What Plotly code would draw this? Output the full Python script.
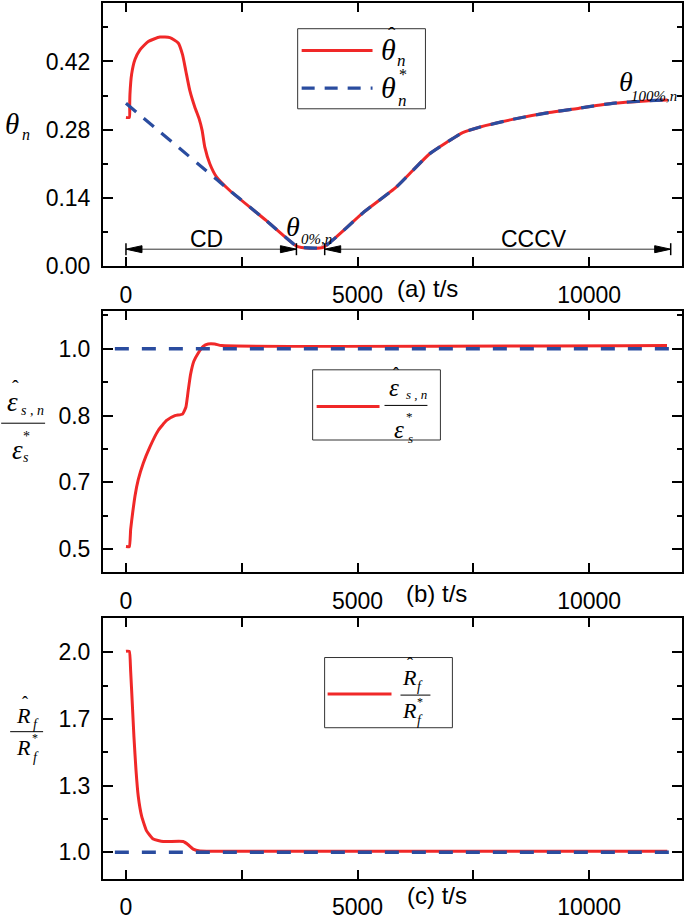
import plotly.graph_objects as go

# ---------------- data ----------------
t_theta_hat = [0, 72, 80, 86, 122, 194, 302, 481, 733, 948, 1128, 1221, 1293, 1379, 1487, 1580,
               1645, 1702, 1810, 1954, 2241, 3032, 3678, 3790, 4250, 5114, 5834, 6191, 6551,
               6911, 7269, 7629, 8347, 9066, 9784, 10502, 11221, 11690]
theta_hat = [0.305, 0.305, 0.330, 0.353, 0.394, 0.424, 0.444, 0.461, 0.470, 0.469, 0.458, 0.434,
             0.400, 0.360, 0.326, 0.302, 0.278, 0.244, 0.210, 0.183, 0.155, 0.093, 0.041, 0.038,
             0.038, 0.109, 0.162, 0.196, 0.230, 0.253, 0.274, 0.285, 0.301, 0.314, 0.324, 0.334,
             0.339, 0.341]

t_theta_star = [0, 1954, 2241, 3032, 3678, 3790, 4250, 5114, 5834, 6191, 6551, 6911, 7269, 7629,
                8347, 9066, 9784, 10502, 11221, 11690]
theta_star = [0.334, 0.178, 0.155, 0.093, 0.041, 0.038, 0.038, 0.109, 0.162, 0.196, 0.230, 0.253,
              0.274, 0.285, 0.301, 0.314, 0.324, 0.334, 0.339, 0.341]

t_eps_hat = [0, 72, 101, 144, 194, 265, 373, 517, 696, 877, 1056, 1221, 1293, 1343, 1394, 1465,
             1558, 1666, 1774, 1918, 2062, 11680]
eps_ratio_hat = [0.506, 0.506, 0.549, 0.590, 0.632, 0.673, 0.714, 0.755, 0.796, 0.821, 0.833, 0.837,
                 0.854, 0.895, 0.936, 0.969, 0.989, 1.006, 1.012, 1.012, 1.008, 1.008]
t_eps_ref = [-240, 11800]
eps_ratio_ref = [1.0, 1.0]

t_rf_hat = [0, 72, 101, 137, 172, 216, 265, 338, 445, 589, 804, 1235, 1343, 1451, 1595, 1882, 11687]
rf_ratio_hat = [2.005, 2.005, 1.906, 1.741, 1.577, 1.412, 1.280, 1.181, 1.107, 1.066, 1.054, 1.054,
                1.038, 1.016, 1.006, 1.005, 1.005]
t_rf_ref = [-240, 11830]
rf_ratio_ref = [1.0, 1.0]

x_tickvals = [0, 2500, 5000, 7500, 10000]
x_ticktext = ["0", "", "5000", "", "10000"]
ya_tickvals = [0, 0.14, 0.28, 0.42]
ya_ticktext = ["0.00", "0.14", "0.28", "0.42"]
ya_minor = [0.07, 0.21, 0.35, 0.49]
yb_tickvals = [0.5, 2 / 3, 5 / 6, 1.0]
yb_ticktext = ["0.5", "0.7", "0.8", "1.0"]
yb_minor = [7 / 12, 3 / 4, 11 / 12, 13 / 12]
yc_tickvals = [1.0, 4 / 3, 5 / 3, 2.0]
yc_ticktext = ["1.0", "1.3", "1.7", "2.0"]
yc_minor = [7 / 6, 1.5, 11 / 6, 13 / 6]
panel_titles = ["(a) t/s", "(b) t/s", "(c) t/s"]
cd_span = [0, 3680]
cccv_span = [4290, 11760]
arrow_level = 0.0345
phase_labels = ["CD", "CCCV"]

# ---------------- layout helpers ----------------
FW, FH = 685, 921
L, R, T, B = 103, 2, 1, 34
W, H = FW - L - R, FH - T - B
RED = "#f02828"
BLUE = "#2a4c9f"
SANS = "Liberation Sans, Arial, sans-serif"
SERIF = "Liberation Serif, Times New Roman, serif"


def P(px):
    return (px - L) / W


def Q(py):
    return 1 - (py - T) / H


annotations = []
shapes = []


def txt(px, py, s, size, serif=True, italic=True, xanchor="center"):
    annotations.append(dict(
        x=P(px), y=Q(py), xref="paper", yref="paper",
        text=("<i>%s</i>" % s) if italic else s, showarrow=False,
        font=dict(family=SERIF if serif else SANS, size=size, color="black"),
        xanchor=xanchor, yanchor="middle"))


def pline(x0, y0, x1, y1, color="black", width=1, dash="solid"):
    shapes.append(dict(type="line", xref="paper", yref="paper", x0=P(x0), y0=Q(y0),
                       x1=P(x1), y1=Q(y1), line=dict(color=color, width=width, dash=dash)))


def prect(x0, y0, x1, y1):
    shapes.append(dict(type="rect", xref="paper", yref="paper", x0=P(x0), y0=Q(y0),
                       x1=P(x1), y1=Q(y1), line=dict(color="#333", width=1), fillcolor="white"))


dom_a = [Q(267), Q(1)]
dom_b = [Q(576.7), Q(312.7)]
dom_c = [max(0, Q(886.7)), Q(623.3)]
xrange_ = [-496, 12004]

fig = go.Figure()
# panel a
fig.add_trace(go.Scatter(x=t_theta_hat, y=theta_hat, mode="lines",
                         line=dict(color=RED, width=3, shape="spline", smoothing=0.5),
                         xaxis="x", yaxis="y", showlegend=False))
fig.add_trace(go.Scatter(x=t_theta_star, y=theta_star, mode="lines",
                         line=dict(color=BLUE, width=3.2, dash="13px,10px", shape="spline", smoothing=0.5),
                         xaxis="x", yaxis="y", showlegend=False))
# panel b
fig.add_trace(go.Scatter(x=t_eps_hat, y=eps_ratio_hat, mode="lines",
                         line=dict(color=RED, width=3, shape="spline", smoothing=0.4),
                         xaxis="x2", yaxis="y2", showlegend=False))
fig.add_trace(go.Scatter(x=t_eps_ref, y=eps_ratio_ref, mode="lines",
                         line=dict(color=BLUE, width=3.5, dash="14px,13px"),
                         xaxis="x2", yaxis="y2", showlegend=False))
# panel c
fig.add_trace(go.Scatter(x=t_rf_hat, y=rf_ratio_hat, mode="lines",
                         line=dict(color=RED, width=3, shape="spline", smoothing=0.4),
                         xaxis="x3", yaxis="y3", showlegend=False))
fig.add_trace(go.Scatter(x=t_rf_ref, y=rf_ratio_ref, mode="lines",
                         line=dict(color=BLUE, width=3.5, dash="14px,13px"),
                         xaxis="x3", yaxis="y3", showlegend=False))

common = dict(showline=True, linecolor="black", linewidth=2, mirror="allticks", ticks="inside",
              tickwidth=2, tickcolor="black", showgrid=False, zeroline=False,
              tickfont=dict(family=SANS, size=23, color="black"))


def xax(anchor):
    return dict(common, domain=[0, 1], anchor=anchor, range=xrange_, tickmode="array",
                tickvals=x_tickvals, ticktext=x_ticktext, ticklen=9, ticklabelstandoff=7)


def yax(anchor, dom, rng, tv, tt, minor):
    return dict(common, domain=dom, anchor=anchor, range=rng, tickmode="array", tickvals=tv,
                ticktext=tt, ticklen=10, ticklabelstandoff=6,
                minor=dict(tickmode="array", tickvals=minor, ticklen=5, tickwidth=2,
                           tickcolor="black", ticks="inside"))


fig.update_layout(
    width=FW, height=FH, margin=dict(l=L, r=R, t=T, b=B),
    paper_bgcolor="white", plot_bgcolor="white", showlegend=False,
    xaxis=xax("y"), yaxis=yax("x", dom_a, [0, 0.540], ya_tickvals, ya_ticktext, ya_minor),
    xaxis2=xax("y2"), yaxis2=yax("x2", dom_b, [0.442, 1.094], yb_tickvals, yb_ticktext, yb_minor),
    xaxis3=xax("y3"), yaxis3=yax("x3", dom_c, [0.868, 2.170], yc_tickvals, yc_ticktext, yc_minor),
)

# x-axis panel titles
txt(428, 290, panel_titles[0], 24, serif=False, italic=False)
txt(437, 598, panel_titles[1], 24, serif=False, italic=False)
txt(438, 904, panel_titles[2], 24, serif=False, italic=False)

# ---- arrows (CD / CCCV) in panel a ----
for (a0, a1) in (cd_span, cccv_span):
    shapes.append(dict(type="line", xref="x", yref="y", x0=a0, x1=a1, y0=arrow_level, y1=arrow_level,
                       line=dict(color="#333", width=1)))
    for xa, sgn in ((a0, 1), (a1, -1)):
        shapes.append(dict(type="path", xref="x", yref="y", xsizemode="pixel", ysizemode="pixel",
                           xanchor=xa, yanchor=arrow_level,
                           path="M0,0 L%d,3.5 L%d,-3.5 Z" % (16 * sgn, 16 * sgn),
                           fillcolor="black", line=dict(color="black", width=1)))
        shapes.append(dict(type="line", xref="x", yref="y", ysizemode="pixel", yanchor=arrow_level,
                           x0=xa, x1=xa, y0=-6, y1=6, line=dict(color="black", width=1.5)))
txt(207, 240, phase_labels[0], 23, serif=False, italic=False)
txt(535, 240, phase_labels[1], 23, serif=False, italic=False)

# theta labels in panel a
txt(12, 123, "θ", 29)
txt(26, 134, "n", 16)
txt(293, 227, "θ", 28)
txt(317, 240, "0%,n", 15)
txt(627, 80, "θ", 28)
txt(655, 95, "100%,n", 15)

# legend panel a
prect(298, 27, 426, 108)
pline(302, 49, 373, 49, RED, 3)
pline(302, 87, 373, 87, BLUE, 3.2, "13px,10px")
txt(389, 48, "θ", 30)
txt(392, 33, "ˆ", 22, italic=False)
txt(402, 59, "n", 17)
txt(389, 86, "θ", 30)
txt(404, 73, "*", 16, italic=False)
txt(403, 100, "n", 17)

# y-title panel b (fraction)
txt(12, 405, "ε", 27)
txt(15, 390, "ˆ", 20, italic=False)
txt(32, 413, "s , n", 14)
pline(1, 426, 45, 426, "black", 1)
txt(17, 453, "ε", 27)
txt(26, 439, "*", 14, italic=False)
txt(26, 461, "s", 14)

# legend panel b
prect(313, 372, 441, 443)
pline(317, 409, 380, 409, RED, 3)
txt(395, 390, "ε", 25)
txt(397, 376, "ˆ", 18, italic=False)
txt(417, 397, "s , n", 13)
pline(385, 408, 428, 408, "black", 1)
txt(400, 432, "ε", 25)
txt(410, 419, "*", 13, italic=False)
txt(411, 441, "s", 13)

# y-title panel c (fraction)
txt(23, 722, "R", 22)
txt(25, 709, "ˆ", 18, italic=False)
txt(36, 731, "f", 14)
pline(10, 738, 43, 738, "black", 1)
txt(23, 754, "R", 22)
txt(35, 744, "*", 12, italic=False)
txt(36, 764, "f", 14)

# legend panel c
prect(325, 663, 453, 734)
pline(328, 700, 392, 700, RED, 3)
txt(410, 683, "R", 22)
txt(411, 670, "ˆ", 18, italic=False)
txt(421, 692, "f", 14)
pline(401, 701, 431, 701, "black", 1)
txt(410, 717, "R", 22)
txt(421, 708, "*", 12, italic=False)
txt(421, 727, "f", 14)

fig.update_layout(annotations=annotations, shapes=shapes)
fig.write_html("out.html", post_script="document.body.style.margin='0px';",
               config={"displayModeBar": False})
